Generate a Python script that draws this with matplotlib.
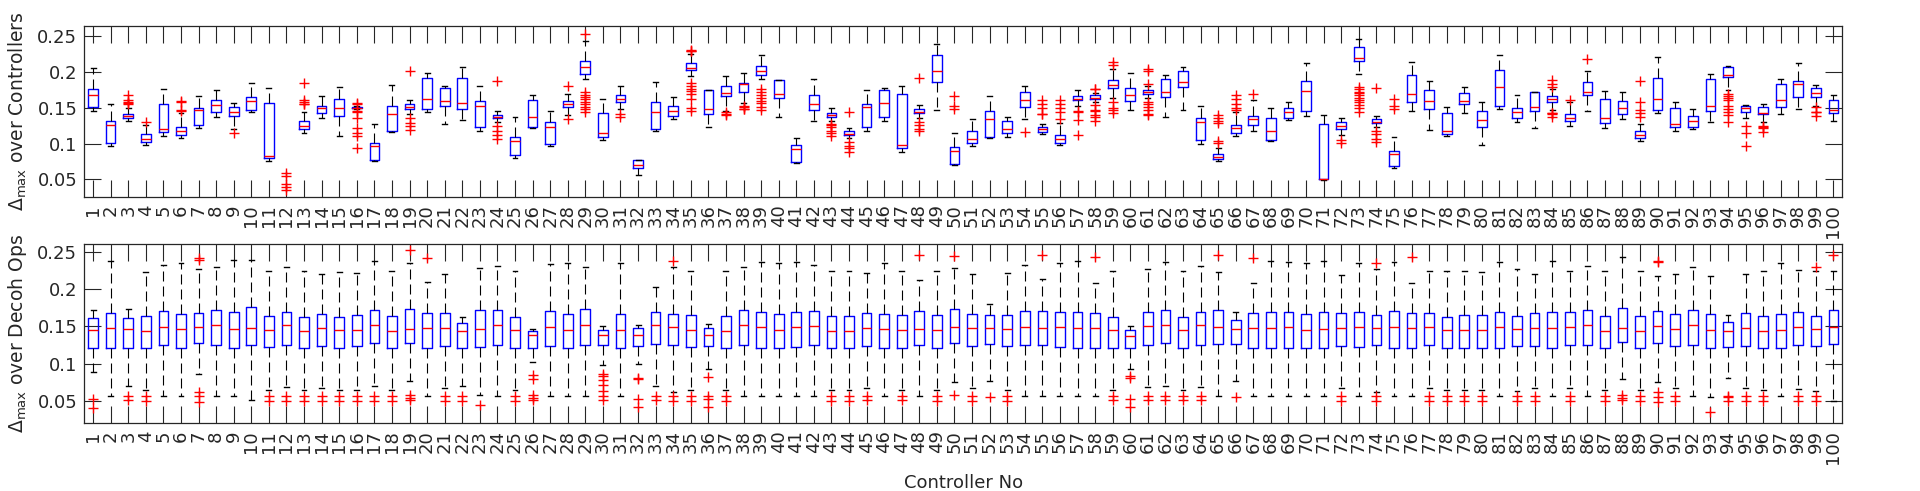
import matplotlib
matplotlib.use('Agg')
import matplotlib.pyplot as plt

# 控制器编号
controllers = list(range(1, 101))

# 上图: Delta_max over Controllers (whisker low, q1, median, q3, whisker high)
top_lo = [0.1457, 0.097, 0.132, 0.0985, 0.111, 0.108, 0.121, 0.137, 0.120, 0.1438,
          0.076, 0.005, 0.115, 0.135, 0.110, 0.1475, 0.076, 0.1155, 0.141, 0.1433,
          0.1276, 0.1326, 0.1178, 0.130, 0.080, 0.121, 0.0964, 0.140, 0.190, 0.1045,
          0.148, 0.0556, 0.118, 0.1345, 0.194, 0.1234, 0.146, 0.156, 0.190, 0.137,
          0.0733, 0.1317, 0.132, 0.108, 0.1174, 0.1317, 0.0885, 0.135, 0.1474, 0.0705,
          0.0964, 0.1077, 0.1094, 0.1345, 0.113, 0.098, 0.152, 0.158, 0.1637, 0.1461,
          0.163, 0.1368, 0.1461, 0.0992, 0.0751, 0.1099, 0.117, 0.1029, 0.1327, 0.139,
          0.0495, 0.112, 0.1976, 0.123, 0.0663, 0.1456, 0.1187, 0.1099, 0.1419, 0.0978,
          0.1475, 0.1303, 0.122, 0.147, 0.1243, 0.1457, 0.122, 0.1345, 0.103, 0.142,
          0.1178, 0.1206, 0.1299, 0.175, 0.135, 0.130, 0.1405, 0.1475, 0.152, 0.1308]
top_q1 = [0.151, 0.101, 0.135, 0.102, 0.1155, 0.1118, 0.1257, 0.1438, 0.138, 0.1466,
          0.0797, 0.010, 0.1197, 0.1419, 0.1387, 0.149, 0.0769, 0.1173, 0.148, 0.1475,
          0.1517, 0.1484, 0.1234, 0.135, 0.0841, 0.123, 0.100, 0.1507, 0.1976, 0.109,
          0.1583, 0.066, 0.1203, 0.139, 0.2028, 0.1418, 0.1665, 0.1722, 0.1958, 0.164,
          0.0746, 0.1474, 0.1372, 0.1117, 0.1224, 0.1372, 0.0932, 0.1419, 0.1855, 0.0711,
          0.101, 0.1095, 0.114, 0.151, 0.1157, 0.101, 0.1614, 0.1624, 0.1772, 0.1595,
          0.1697, 0.1656, 0.179, 0.1044, 0.0779, 0.114, 0.1262, 0.1047, 0.135, 0.146,
          0.050, 0.1205, 0.2147, 0.128, 0.0686, 0.1585, 0.1484, 0.1131, 0.1558, 0.1224,
          0.152, 0.135, 0.1452, 0.1586, 0.1313, 0.168, 0.128, 0.141, 0.1071, 0.1466,
          0.1225, 0.1234, 0.1447, 0.1934, 0.1433, 0.141, 0.1503, 0.1651, 0.1656, 0.1429]
top_med = [0.168, 0.1257, 0.138, 0.107, 0.120, 0.1178, 0.1466, 0.1535, 0.144, 0.1595,
           0.083, 0.012, 0.125, 0.1489, 0.1489, 0.150, 0.0964, 0.1414, 0.1504, 0.1624,
           0.159, 0.157, 0.1517, 0.1368, 0.1039, 0.1374, 0.1234, 0.1548, 0.2073, 0.115,
           0.1624, 0.0704, 0.1437, 0.1456, 0.205, 0.148, 0.171, 0.183, 0.2018, 0.1697,
           0.0927, 0.1553, 0.1395, 0.1131, 0.151, 0.1563, 0.0974, 0.1433, 0.2018, 0.0896,
           0.1057, 0.1346, 0.1196, 0.1614, 0.120, 0.106, 0.1624, 0.1642, 0.1813, 0.1683,
           0.172, 0.172, 0.1865, 0.1298, 0.0816, 0.122, 0.1345, 0.1169, 0.1438, 0.1735,
           0.0508, 0.1242, 0.219, 0.130, 0.0848, 0.1697, 0.159, 0.1173, 0.1595, 0.1327,
           0.179, 0.1438, 0.1512, 0.1628, 0.136, 0.1712, 0.135, 0.1498, 0.1122, 0.1624,
           0.1276, 0.1313, 0.1517, 0.1953, 0.1493, 0.1419, 0.161, 0.1837, 0.1707, 0.147]
top_q3 = [0.1754, 0.131, 0.1415, 0.113, 0.1555, 0.1233, 0.150, 0.1614, 0.151, 0.165,
          0.1563, 0.015, 0.1317, 0.152, 0.1628, 0.1515, 0.101, 0.153, 0.1545, 0.191,
          0.1777, 0.192, 0.1597, 0.1396, 0.1085, 0.1606, 0.1294, 0.160, 0.2157, 0.143,
          0.1683, 0.0765, 0.158, 0.152, 0.2117, 0.1744, 0.180, 0.1846, 0.2087, 0.1883,
          0.0978, 0.1683, 0.1423, 0.1173, 0.155, 0.1745, 0.1697, 0.148, 0.223, 0.0952,
          0.1174, 0.1451, 0.1317, 0.172, 0.1227, 0.112, 0.1665, 0.1674, 0.1883, 0.1772,
          0.1744, 0.1897, 0.2018, 0.1354, 0.0858, 0.1262, 0.139, 0.1363, 0.1489, 0.1878,
          0.127, 0.1302, 0.2347, 0.1341, 0.0899, 0.1953, 0.1753, 0.1427, 0.1706, 0.1451,
          0.2032, 0.150, 0.1721, 0.166, 0.1415, 0.1865, 0.1619, 0.1596, 0.1178, 0.1911,
          0.1498, 0.1378, 0.1902, 0.2064, 0.1521, 0.1512, 0.1837, 0.1874, 0.1777, 0.1605]
top_hi = [0.2055, 0.155, 0.150, 0.126, 0.1758, 0.143, 0.1665, 0.174, 0.156, 0.184,
          0.1772, 0.020, 0.1438, 0.1665, 0.179, 0.153, 0.127, 0.181, 0.161, 0.1977,
          0.180, 0.207, 0.180, 0.1452, 0.1364, 0.168, 0.146, 0.1697, 0.243, 0.1619,
          0.180, 0.0765, 0.186, 0.165, 0.225, 0.1744, 0.194, 0.1985, 0.224, 0.1883,
          0.108, 0.190, 0.1502, 0.121, 0.1741, 0.178, 0.1804, 0.154, 0.2393, 0.1147,
          0.1342, 0.1665, 0.137, 0.1804, 0.127, 0.129, 0.1744, 0.170, 0.2045, 0.1985,
          0.180, 0.1953, 0.2064, 0.1526, 0.0932, 0.144, 0.1605, 0.150, 0.1577, 0.2129,
          0.1396, 0.135, 0.2455, 0.138, 0.1085, 0.2133, 0.1874, 0.151, 0.179, 0.1577,
          0.2235, 0.1675, 0.1721, 0.1767, 0.1582, 0.2013, 0.1735, 0.1721, 0.127, 0.2204,
          0.1582, 0.1484, 0.1967, 0.2088, 0.1535, 0.1558, 0.1897, 0.2125, 0.1814, 0.1675]
# 上图离群点 (控制器编号: 数值)
top_fliers = {
    3: [0.168, 0.1605, 0.1585, 0.1567, 0.155],
    4: [0.130],
    6: [0.160, 0.1585, 0.1465, 0.145],
    9: [0.115],
    12: [0.0582, 0.0545, 0.0436, 0.040, 0.0345],
    13: [0.185, 0.161, 0.158, 0.155, 0.1545],
    16: [0.1568, 0.1545, 0.1451, 0.1442, 0.1359, 0.122, 0.115, 0.110, 0.094],
    19: [0.2015, 0.136, 0.129, 0.124, 0.119],
    24: [0.187, 0.1243, 0.118, 0.112, 0.106],
    28: [0.1804, 0.1345],
    29: [0.253, 0.1716, 0.1683, 0.165, 0.1624, 0.1583, 0.155, 0.151, 0.1475, 0.144],
    31: [0.1415, 0.137],
    35: [0.2306, 0.2295, 0.2288, 0.184, 0.180, 0.1764, 0.173, 0.169, 0.162, 0.150, 0.145],
    37: [0.1433, 0.1405, 0.140],
    38: [0.153, 0.151, 0.148, 0.1475],
    39: [0.1767, 0.1721, 0.1675, 0.1638, 0.160, 0.156, 0.151, 0.1465],
    43: [0.127, 0.1262, 0.1233, 0.1178, 0.114, 0.1103],
    44: [0.1433, 0.102, 0.0969, 0.0932, 0.0885],
    48: [0.192, 0.130, 0.1257, 0.1201, 0.1173],
    50: [0.167, 0.152, 0.1487],
    54: [0.1155],
    55: [0.161, 0.1555, 0.150, 0.1414, 0.1405],
    56: [0.161, 0.155, 0.149, 0.1433, 0.1336],
    57: [0.1447, 0.144, 0.1326, 0.1115],
    58: [0.1762, 0.1755, 0.1535, 0.1465, 0.145, 0.140, 0.1364, 0.1317],
    59: [0.2135, 0.210, 0.158, 0.1497, 0.1465, 0.1419],
    61: [0.2045, 0.2013, 0.1836, 0.158, 0.1549, 0.151, 0.1465, 0.1405, 0.140],
    65: [0.140, 0.136, 0.132, 0.128, 0.104, 0.1002],
    66: [0.1683, 0.1628, 0.1558, 0.1497, 0.1465],
    67: [0.1697],
    72: [0.105, 0.101],
    73: [0.179, 0.1758, 0.172, 0.170, 0.1675, 0.1642, 0.1605, 0.1582, 0.1535, 0.1489, 0.1442],
    74: [0.178, 0.1173, 0.113, 0.1057, 0.102],
    75: [0.1623, 0.152, 0.1475],
    84: [0.1883, 0.1837, 0.179, 0.1429, 0.142, 0.141, 0.1373],
    85: [0.1605],
    86: [0.2185],
    89: [0.1879, 0.1573, 0.1466, 0.142, 0.1373],
    94: [0.1689, 0.1661, 0.1633, 0.1605, 0.1521, 0.1484, 0.1443, 0.1396, 0.1294],
    95: [0.1243, 0.115, 0.0969],
    96: [0.1248, 0.1225, 0.1215, 0.1164],
    99: [0.1503, 0.1445, 0.1442, 0.1382],
}

# 下图: Delta_max over Decoh Ops
bot_lo = [0.0893, 0.056, 0.070, 0.0644, 0.056, 0.056, 0.0862, 0.056, 0.056, 0.0516,
          0.0649, 0.0689, 0.0644, 0.0671, 0.0649, 0.0653, 0.070, 0.0644, 0.0773, 0.056,
          0.0671, 0.070, 0.0578, 0.056, 0.0649, 0.1026, 0.056, 0.056, 0.056, 0.0977,
          0.056, 0.100, 0.070, 0.0626, 0.0649, 0.0924, 0.0644, 0.056, 0.056, 0.056,
          0.056, 0.056, 0.0644, 0.0644, 0.0671, 0.056, 0.0653, 0.056, 0.0653, 0.0755,
          0.0671, 0.0769, 0.0653, 0.056, 0.056, 0.056, 0.056, 0.056, 0.0653, 0.0933,
          0.0693, 0.070, 0.0653, 0.0693, 0.056, 0.0764, 0.056, 0.056, 0.056, 0.056,
          0.056, 0.0671, 0.056, 0.0626, 0.056, 0.056, 0.0671, 0.0653, 0.0653, 0.0653,
          0.056, 0.0631, 0.0671, 0.056, 0.0671, 0.056, 0.0644, 0.0791, 0.0644, 0.0755,
          0.0671, 0.056, 0.0551, 0.0813, 0.0671, 0.0644, 0.056, 0.0662, 0.0631, 0.050]
bot_q1 = [0.1212, 0.1204, 0.1212, 0.1212, 0.1244, 0.1204, 0.127, 0.1253, 0.1204, 0.1253,
          0.1217, 0.1248, 0.1212, 0.123, 0.1208, 0.123, 0.1275, 0.1212, 0.1279, 0.1208,
          0.1235, 0.1204, 0.1221, 0.1253, 0.1208, 0.1212, 0.123, 0.1208, 0.1253, 0.1244,
          0.1208, 0.123, 0.1266, 0.1253, 0.1217, 0.123, 0.1212, 0.1253, 0.1212, 0.1204,
          0.1217, 0.1248, 0.1208, 0.1208, 0.1235, 0.1204, 0.1212, 0.1244, 0.1212, 0.127,
          0.1235, 0.1257, 0.123, 0.1244, 0.1244, 0.1221, 0.1212, 0.1204, 0.1208, 0.1212,
          0.1244, 0.127, 0.1208, 0.1248, 0.1257, 0.1257, 0.1204, 0.1212, 0.1212, 0.1208,
          0.1212, 0.1235, 0.1217, 0.1244, 0.1212, 0.1212, 0.1244, 0.1204, 0.1212, 0.1212,
          0.1212, 0.123, 0.123, 0.1212, 0.1244, 0.1253, 0.1212, 0.1284, 0.1212, 0.127,
          0.1235, 0.1253, 0.1204, 0.1221, 0.123, 0.1212, 0.1208, 0.1244, 0.123, 0.1257]
bot_med = [0.1452, 0.1475, 0.146, 0.1439, 0.1497, 0.146, 0.1492, 0.1523, 0.1466, 0.1475,
           0.1452, 0.1523, 0.1443, 0.1475, 0.1448, 0.1457, 0.1523, 0.1439, 0.1466, 0.1475,
           0.1475, 0.1443, 0.1466, 0.1523, 0.1452, 0.1386, 0.1497, 0.1457, 0.1523, 0.139,
           0.1457, 0.1386, 0.1523, 0.1488, 0.1452, 0.139, 0.1443, 0.1519, 0.1492, 0.1457,
           0.1492, 0.1506, 0.1443, 0.1443, 0.1475, 0.1461, 0.1452, 0.147, 0.1452, 0.1492,
           0.1475, 0.1475, 0.1461, 0.1497, 0.1475, 0.1492, 0.1483, 0.1475, 0.1452, 0.1368,
           0.1506, 0.1523, 0.1448, 0.1523, 0.1488, 0.147, 0.1475, 0.1475, 0.1492, 0.1457,
           0.147, 0.1475, 0.1492, 0.1483, 0.1488, 0.1475, 0.1492, 0.1448, 0.1452, 0.1452,
           0.1492, 0.1461, 0.1475, 0.1475, 0.1497, 0.1519, 0.1443, 0.1483, 0.1443, 0.1501,
           0.1466, 0.1519, 0.1457, 0.1435, 0.1475, 0.1443, 0.1457, 0.1497, 0.1466, 0.1497]
bot_q3 = [0.1617, 0.1683, 0.1612, 0.1643, 0.171, 0.167, 0.1683, 0.1723, 0.1688, 0.1759,
          0.1643, 0.1692, 0.163, 0.167, 0.163, 0.1652, 0.1719, 0.1639, 0.1732, 0.1674,
          0.1674, 0.1546, 0.1714, 0.1723, 0.163, 0.1439, 0.1705, 0.167, 0.1728, 0.1452,
          0.167, 0.1479, 0.1697, 0.167, 0.1648, 0.1479, 0.1643, 0.1723, 0.1697, 0.167,
          0.1692, 0.171, 0.1639, 0.1634, 0.1674, 0.167, 0.1648, 0.1705, 0.1648, 0.1732,
          0.167, 0.1648, 0.1652, 0.171, 0.171, 0.1692, 0.1692, 0.1674, 0.163, 0.1452,
          0.1692, 0.1714, 0.163, 0.1692, 0.1719, 0.1586, 0.1679, 0.1692, 0.1692, 0.1665,
          0.1692, 0.1674, 0.1692, 0.1657, 0.170, 0.1679, 0.1683, 0.163, 0.1648, 0.1652,
          0.1692, 0.1643, 0.1674, 0.1692, 0.1692, 0.1723, 0.1643, 0.1745, 0.1643, 0.1705,
          0.1665, 0.1723, 0.1665, 0.1559, 0.1674, 0.1639, 0.1665, 0.1692, 0.1643, 0.1723]
bot_hi = [0.172, 0.237, 0.1732, 0.2234, 0.2318, 0.2345, 0.2265, 0.2291, 0.2385, 0.2385,
          0.2238, 0.2296, 0.2238, 0.2198, 0.2234, 0.222, 0.237, 0.2238, 0.2345, 0.2092,
          0.2198, 0.163, 0.2287, 0.2305, 0.2238, 0.147, 0.234, 0.2349, 0.2296, 0.150,
          0.2349, 0.152, 0.2025, 0.2291, 0.2238, 0.1537, 0.2238, 0.230, 0.2363, 0.2354,
          0.2363, 0.2318, 0.2238, 0.2247, 0.2212, 0.2354, 0.2238, 0.2127, 0.2238, 0.2287,
          0.2198, 0.1803, 0.222, 0.2318, 0.2132, 0.2349, 0.2376, 0.2087, 0.2238, 0.150,
          0.2265, 0.2367, 0.2238, 0.2309, 0.2234, 0.1692, 0.2087, 0.238, 0.2367, 0.2349,
          0.2376, 0.2194, 0.2349, 0.2274, 0.2367, 0.2087, 0.2238, 0.2238, 0.2238, 0.2229,
          0.2363, 0.2269, 0.2198, 0.238, 0.2243, 0.2305, 0.2238, 0.2425, 0.2238, 0.2176,
          0.2198, 0.2296, 0.2176, 0.1648, 0.2198, 0.2238, 0.2345, 0.2256, 0.2243, 0.2243]
# 下图中很多控制器都有同样的两个低离群点
bot_low_pair = [0.0569, 0.0502]
bot_low_pair_ids = [4, 11, 12, 13, 14, 15, 16, 17, 18, 21, 22, 25, 35, 37, 43, 44, 49,
                    51, 53, 72, 77, 78, 79, 80, 83, 85, 87, 89, 91, 95, 96, 98]
bot_low_pair_b = [0.0569, 0.0511]
bot_low_pair_b_ids = [3, 33, 45, 47, 59, 61, 62, 63, 64]
bot_fliers_other = {
    1: [0.0524, 0.0404],
    7: [0.2411, 0.2389, 0.0626, 0.0569, 0.048],
    19: [0.2522, 0.0578, 0.0538, 0.0511],
    20: [0.242],
    23: [0.0444],
    26: [0.0845, 0.080, 0.0573, 0.0545, 0.051],
    30: [0.0866, 0.0835, 0.0777, 0.0711, 0.0636, 0.0569, 0.0511],
    32: [0.081, 0.079, 0.0524, 0.0413],
    34: [0.2376, 0.0569, 0.0493],
    36: [0.0822, 0.0569, 0.0524, 0.0413],
    48: [0.2451],
    50: [0.2442, 0.0578],
    52: [0.0556],
    55: [0.2456],
    58: [0.2433],
    60: [0.0835, 0.0804, 0.0524, 0.0413],
    65: [0.2456],
    66: [0.0547],
    67: [0.242],
    74: [0.2354, 0.0569, 0.0493],
    76: [0.2429],
    82: [0.0569, 0.0493],
    88: [0.0578, 0.0538, 0.0511],
    90: [0.238, 0.2367, 0.0613, 0.0556, 0.048],
    93: [0.0356],
    94: [0.056, 0.0547, 0.0502],
    99: [0.230, 0.0569, 0.0493],
    100: [0.2456],
}

bot_fliers = dict(bot_fliers_other)
for c in bot_low_pair_ids:
    bot_fliers[c] = bot_low_pair
for c in bot_low_pair_b_ids:
    bot_fliers[c] = bot_low_pair_b


def make_stats(lo, q1, med, q3, hi, fliers):
    stats = []
    for i, c in enumerate(controllers):
        stats.append(dict(whislo=lo[i], q1=q1[i], med=med[i], q3=q3[i],
                          whishi=hi[i], fliers=fliers.get(c, [])))
    return stats


dark = '#262626'
plt.rcParams['font.family'] = ['DejaVu Sans']
plt.rcParams['mathtext.fontset'] = 'dejavusans'

fig = plt.figure(figsize=(19.2, 4.91), dpi=100)
ax1 = fig.add_axes([0.0439, 0.5982, 0.9156, 0.3489])
ax2 = fig.add_axes([0.0439, 0.1379, 0.9156, 0.3646])


def draw(ax, stats, ylim, ylabel):
    ax.bxp(stats, positions=controllers, widths=0.55, capwidths=0.28,
           boxprops=dict(color='blue', linewidth=1.0),
           medianprops=dict(color='red', linewidth=1.0),
           whiskerprops=dict(color='black', linewidth=0.8, linestyle=(0, (9, 4.5))),
           capprops=dict(color='black', linewidth=1.0),
           flierprops=dict(marker='+', markeredgecolor='red', markersize=6.5,
                           markeredgewidth=1.0, linestyle='none'))
    ax.set_xlim(0.5, 100.5)
    ax.set_ylim(*ylim)
    ax.set_xticks(controllers)
    ax.set_xticklabels([str(c) for c in controllers], rotation=90, fontsize=13,
                       color=dark)
    ax.set_yticks([0.05, 0.1, 0.15, 0.2, 0.25])
    ax.set_yticklabels(['0.05', '0.1', '0.15', '0.2', '0.25'], fontsize=13, color=dark)
    ax.tick_params(direction='in', length=12.2, width=0.8, top=True, right=True,
                   color=dark, pad=5)
    for s in ax.spines.values():
        s.set_color(dark)
        s.set_linewidth(0.9)
    ax.set_ylabel(ylabel, fontsize=13.5, color=dark)
    ax.yaxis.set_label_coords(-0.0315, 0.5)


draw(ax1, make_stats(top_lo, top_q1, top_med, top_q3, top_hi, top_fliers),
     (0.025, 0.264), r'$\Delta_{\rm max}$ over Controllers')
draw(ax2, make_stats(bot_lo, bot_q1, bot_med, bot_q3, bot_hi, bot_fliers),
     (0.02, 0.26), r'$\Delta_{\rm max}$ over Decoh Ops')

ax2.set_xlabel('Controller No', fontsize=13, color=dark)
ax2.xaxis.set_label_coords(0.5, -0.285)

plt.savefig('out.png', dpi=100)
